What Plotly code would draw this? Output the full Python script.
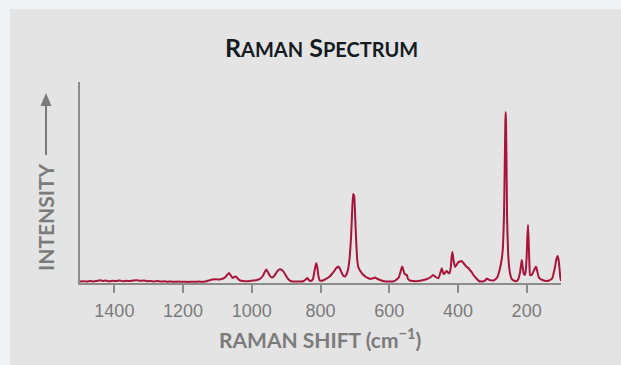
import plotly.graph_objects as go

# Raman shift (cm^-1) and relative intensity of the recorded spectrum
shift = [
    1500, 1490, 1480, 1470, 1460, 1450, 1440, 1435, 1425, 1415, 1405, 1395, 1385, 1375,
    1365, 1355, 1345, 1335, 1325, 1315, 1305, 1295, 1285, 1275, 1265, 1255, 1245, 1235,
    1225, 1215, 1205, 1195, 1185, 1175, 1165, 1155, 1145, 1135, 1125, 1115, 1105, 1095,
    1085, 1078, 1072, 1066, 1061, 1056, 1051, 1046, 1041, 1034, 1025, 1015, 1005, 995,
    985, 975, 968, 963, 958, 953, 948, 942, 936, 930, 924, 918, 912, 906, 900, 894, 888,
    880, 870, 860, 850, 843, 838, 834, 828, 822, 818, 814, 812, 809, 806, 802, 796, 790,
    782, 775, 768, 760, 754, 748, 743, 738, 733, 729, 724, 719, 715, 711, 708, 705, 702,
    699, 696, 693, 690, 686, 682, 678, 673, 668, 662, 656, 650, 645, 641, 636, 630, 624,
    618, 610, 600, 590, 582, 577, 572, 568, 564, 562, 559, 555, 549, 545, 540, 530, 520,
    510, 500, 490, 481, 472, 465, 457, 452, 447, 443, 440, 436, 432, 428, 425, 421, 418,
    416, 413, 408, 404, 399, 394, 389, 384, 379, 374, 369, 364, 360, 355, 350, 345, 339,
    333, 326, 321, 316, 311, 305, 297, 290, 285, 282, 278, 275, 272, 269, 266, 264, 262,
    261, 260, 258, 257, 254, 251, 248, 244, 238, 229, 224, 221, 219, 216, 214, 212, 209,
    206, 203, 200, 198, 196, 194, 192, 190, 186, 182, 178, 174, 172, 168, 165, 160, 154,
    147, 141, 135, 129, 125, 122, 118, 114, 110, 107, 104, 102, 100,
]
intensity = [
    0.5, 0.8, 0.4, 1.0, 0.6, 1.2, 1.8, 1.0, 1.4, 0.7, 1.3, 0.9, 1.5, 0.8,
    1.2, 1.0, 1.6, 1.8, 1.2, 1.5, 0.8, 1.1, 0.6, 0.9, 0.4, 0.7, 0.3, 0.5,
    0.2, 0.4, 0.2, 0.3, 0.1, 0.3, 0.2, 0.4, 0.3, 0.6, 1.5, 2.5, 2.8, 2.4,
    3.2, 4.5, 7.0, 9.0, 6.5, 4.0, 5.0, 5.5, 3.5, 1.5, 1.0, 0.8, 1.0, 1.5,
    2.0, 3.5, 6.0, 9.5, 12.5, 10.0, 6.5, 4.5, 5.5, 8.5, 11.5, 12.7, 12.0, 9.5, 6.0, 3.0, 1.2,
    0.6, 0.4, 0.5, 0.8, 2.5, 4.0, 2.0, 1.0, 3.0, 10.0, 17.0, 18.7, 14.0, 6.0, 1.5, 1.2, 2.0,
    3.5, 5.0, 7.5, 11.0, 14.0, 15.5, 13.0, 9.0, 6.0, 5.5, 8.0, 14.0, 25.0, 45.0, 70.0, 88.0, 86.0,
    65.0, 40.0, 22.0, 15.0, 12.0, 10.0, 8.0, 6.5, 5.0, 4.0, 3.0, 3.5, 4.0, 4.4, 3.5, 2.5, 1.8,
    1.0, 0.6, 0.5, 0.5, 1.5, 3.0, 4.5, 9.0, 14.0, 15.5, 12.0, 8.0, 7.0, 3.0, 1.5, 1.0, 0.8,
    1.2, 2.0, 3.0, 4.5, 7.0, 5.0, 3.7, 8.0, 13.7, 9.0, 8.0, 10.0, 11.0, 9.0, 8.7, 14.0, 26.0,
    30.0, 22.0, 15.0, 17.0, 19.7, 20.5, 21.0, 19.0, 17.0, 15.0, 13.7, 11.5, 10.0, 7.0, 5.0, 3.0, 1.0,
    0.5, 0.8, 1.5, 3.4, 2.5, 1.8, 1.5, 3.0, 5.0, 8.0, 13.0, 18.0, 24.0, 35.0, 65.0, 110.0, 160.0,
    170.0, 160.0, 100.0, 65.0, 30.0, 15.0, 8.0, 3.4, 1.5, 1.0, 3.0, 7.0, 10.0, 18.0, 22.0, 16.0, 9.0,
    7.0, 10.0, 25.0, 45.0, 57.0, 40.0, 18.0, 7.0, 7.0, 9.0, 12.0, 15.0, 15.0, 9.0, 5.0, 3.0, 2.0,
    1.2, 1.0, 1.5, 2.5, 4.0, 8.0, 14.0, 22.0, 26.0, 22.0, 12.0, 5.0, 1.0,
]

tick_values = [1400, 1200, 1000, 800, 600, 400, 200]
tick_labels = ["1400", "1200", "1000", "800", "600", "400", "200"]

W, H = 621, 365
L, R, T, B = 80, 60, 82, 82
pw, ph = W - L - R, H - T - B


def px_x(p):
    return (p - L) / pw


def px_y(p):
    return (H - B - p) / ph


LINE = "#a8143c"
GREY = "#7b7b7b"
AXIS = "#8c8c8c"
FONT = "Lato"

fig = go.Figure(
    go.Scatter(
        x=shift, y=intensity, mode="lines",
        line=dict(color=LINE, width=2, shape="spline", smoothing=0.4),
        hoverinfo="skip",
    )
)

# upward arrow beside the intensity label
ax_x, tip_y, tail_y, head_len, head_half = 46, 93, 155, 13, 5.5
arrow_path = "M {} {} L {} {} L {} {} Z".format(
    px_x(ax_x), px_y(tip_y),
    px_x(ax_x - head_half), px_y(tip_y + head_len),
    px_x(ax_x + head_half), px_y(tip_y + head_len),
)

fig.update_layout(
    width=W, height=H,
    margin=dict(l=L, r=R, t=T, b=B),
    paper_bgcolor="#f1f2f4",
    plot_bgcolor="#ffffff",
    showlegend=False,
    xaxis=dict(
        range=[1500, 100], tickvals=tick_values, ticktext=tick_labels,
        ticks="outside", ticklen=8, tickwidth=1.5, tickcolor=AXIS,
        showline=True, linecolor=AXIS, linewidth=1.5,
        showgrid=False, zeroline=False, ticklabelstandoff=3,
        tickfont=dict(family="Liberation Sans, Arial", size=18, color=GREY),
    ),
    yaxis=dict(
        range=[-1, 200], showticklabels=False, ticks="",
        showline=True, linecolor=AXIS, linewidth=1.5,
        showgrid=False, zeroline=False,
    ),
    shapes=[
        dict(type="rect", xref="paper", yref="paper", layer="below",
             x0=px_x(10), x1=px_x(W + 5), y0=px_y(H + 5), y1=px_y(9),
             fillcolor="#e4e4e4", line=dict(width=0)),
        dict(type="line", xref="paper", yref="paper",
             x0=px_x(ax_x), x1=px_x(ax_x), y0=px_y(tail_y), y1=px_y(tip_y + head_len - 1),
             line=dict(color=GREY, width=2)),
        dict(type="path", xref="paper", yref="paper", path=arrow_path,
             fillcolor=GREY, line=dict(width=0)),
    ],
    annotations=[
        dict(
            text="R<span style='font-size:20px'>AMAN</span> S<span style='font-size:20px'>PECTRUM</span>",
            x=px_x(321), y=px_y(47), xref="paper", yref="paper",
            xanchor="center", yanchor="middle", showarrow=False,
            font=dict(family=FONT, size=25, color="#161b1f", weight="bold"),
        ),
        dict(
            text="RAMAN SHIFT (cm<sup>−1</sup>)",
            x=px_x(320), y=px_y(338), xref="paper", yref="paper",
            xanchor="center", yanchor="middle", showarrow=False,
            font=dict(family=FONT, size=21, color=GREY, weight="bold"),
        ),
        dict(
            text="INTENSITY", textangle=-90,
            x=px_x(45), y=px_y(217), xref="paper", yref="paper",
            xanchor="center", yanchor="middle", showarrow=False,
            font=dict(family=FONT, size=21, color=GREY, weight="bold"),
        ),
    ],
)

fig.write_html("out.html")
